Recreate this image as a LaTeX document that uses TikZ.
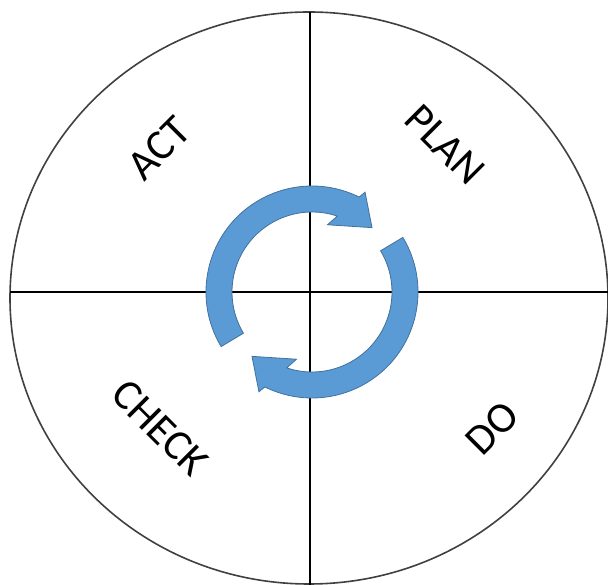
\documentclass[tikz,border=0pt]{standalone}
\usepackage{fontspec}
\setmainfont{Carlito}
\usepackage{xcolor}
\usetikzlibrary{positioning}
\definecolor{cycleblue}{HTML}{5B9BD5}
\definecolor{cycleedge}{HTML}{41719C}
\tikzset{
    quadlabel/.style={font=\fontsize{43}{50}\selectfont, inner sep=0pt},
    axis/.style={line width=2.6pt, black},
    rim/.style={line width=1.6pt, black!75},
    cyclearrow/.style={fill=cycleblue, draw=cycleedge, line width=0.8pt, line join=miter}
}

\begin{document}
\begin{tikzpicture}[x=1pt, y=1pt]
    \useasboundingbox (-310,-293) rectangle (298,292);
    % outer ring and quadrants
    \draw [rim] (-1,-6) ellipse [x radius=299, y radius=286];
    \coordinate (top) at (0,280);
    \coordinate (bottom) at (0,-294);
    \coordinate (left) at (-300,0);
    \coordinate (right) at (299,0);
    \draw [axis] (top) -- (bottom);
    \draw [axis] (left) -- (right);

    % labels
    \node (act) [quadlabel, rotate=45] at (-151,144) {ACT};
    \node (plan) [quadlabel, rotate=-45] at (135,147) {PLAN};
    \node (check) [quadlabel, rotate=-45] at (-150,-136) {CHECK};
    \node (do) [quadlabel, rotate=45] at (182,-136) {DO};

    % cycle arrows
    \coordinate (hub) at (2,0);
    \foreach \turn in {0,180} {
        \begin{scope}[shift={(hub)}, rotate=\turn]
            \draw [cyclearrow] (211:106) arc[start angle=211, end angle=63.6, radius=106]
                -- (62:113) -- (47:88) -- (77:69) -- (71.6:80)
                arc[start angle=71.6, end angle=211, radius=80] -- cycle;
        \end{scope}
    }
\end{tikzpicture}
\end{document}
